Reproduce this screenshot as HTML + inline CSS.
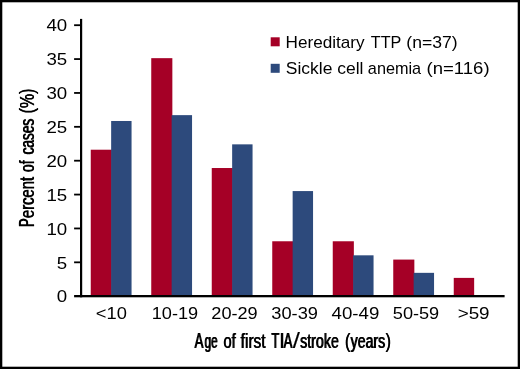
<!DOCTYPE html>
<html><head><meta charset="utf-8"><title>chart</title>
<style>html,body{margin:0;padding:0;background:#fff}svg{display:block;will-change:transform}text{font-family:"Liberation Sans",sans-serif;fill:#000}.t{stroke:#000;stroke-width:0.12px;vector-effect:non-scaling-stroke}</style></head>
<body>
<svg width="520" height="369" viewBox="0 0 520 369">
<rect x="0" y="0" width="520" height="369" fill="#fff"/>
<rect x="90.75" y="149.71" width="21.10" height="146.49" fill="#a50026"/>
<rect x="111.15" y="120.98" width="20.40" height="175.22" fill="#2d4a7c"/>
<rect x="151.25" y="58.16" width="21.10" height="238.04" fill="#a50026"/>
<rect x="171.65" y="115.14" width="20.40" height="181.06" fill="#2d4a7c"/>
<rect x="211.75" y="168.02" width="21.10" height="128.18" fill="#a50026"/>
<rect x="232.15" y="144.35" width="20.40" height="151.85" fill="#2d4a7c"/>
<rect x="272.25" y="241.27" width="21.10" height="54.93" fill="#a50026"/>
<rect x="292.65" y="191.07" width="20.40" height="105.13" fill="#2d4a7c"/>
<rect x="332.75" y="241.27" width="21.10" height="54.93" fill="#a50026"/>
<rect x="353.15" y="255.32" width="20.40" height="40.88" fill="#2d4a7c"/>
<rect x="393.25" y="259.58" width="21.10" height="36.62" fill="#a50026"/>
<rect x="413.65" y="272.84" width="20.40" height="23.36" fill="#2d4a7c"/>
<rect x="453.75" y="277.89" width="20.40" height="18.31" fill="#a50026"/>
<rect x="80" y="18.9" width="2.2" height="278.4" fill="#000"/>
<rect x="74.1" y="295" width="430.5" height="2.3" fill="#000"/>
<rect x="74.1" y="261.43" width="6.5" height="1.8" fill="#000"/>
<rect x="74.1" y="227.55" width="6.5" height="1.8" fill="#000"/>
<rect x="74.1" y="193.67" width="6.5" height="1.8" fill="#000"/>
<rect x="74.1" y="159.80" width="6.5" height="1.8" fill="#000"/>
<rect x="74.1" y="125.92" width="6.5" height="1.8" fill="#000"/>
<rect x="74.1" y="92.05" width="6.5" height="1.8" fill="#000"/>
<rect x="74.1" y="58.17" width="6.5" height="1.8" fill="#000"/>
<rect x="74.1" y="24.30" width="6.5" height="1.8" fill="#000"/>
<text transform="translate(67.2 302.45) scale(1.08 1)" font-size="17.3" text-anchor="end">0</text>
<text transform="translate(67.2 268.57) scale(1.08 1)" font-size="17.3" text-anchor="end">5</text>
<text transform="translate(67.2 234.70) scale(1.08 1)" font-size="17.3" text-anchor="end">10</text>
<text transform="translate(67.2 200.82) scale(1.08 1)" font-size="17.3" text-anchor="end">15</text>
<text transform="translate(67.2 166.95) scale(1.08 1)" font-size="17.3" text-anchor="end">20</text>
<text transform="translate(67.2 133.07) scale(1.08 1)" font-size="17.3" text-anchor="end">25</text>
<text transform="translate(67.2 99.20) scale(1.08 1)" font-size="17.3" text-anchor="end">30</text>
<text transform="translate(67.2 65.32) scale(1.08 1)" font-size="17.3" text-anchor="end">35</text>
<text transform="translate(67.2 31.45) scale(1.08 1)" font-size="17.3" text-anchor="end">40</text>
<text transform="translate(111.35 318.8) scale(1.06 1)" font-size="17.3" text-anchor="middle">&lt;10</text>
<text transform="translate(174.90 318.8) scale(1.05 1)" font-size="17.3" text-anchor="middle">10-19</text>
<text transform="translate(234.50 318.8) scale(1.05 1)" font-size="17.3" text-anchor="middle">20-29</text>
<text transform="translate(294.60 318.8) scale(1.055 1)" font-size="17.3" text-anchor="middle">30-39</text>
<text transform="translate(355.40 318.8) scale(1.08 1)" font-size="17.3" text-anchor="middle">40-49</text>
<text transform="translate(416.00 318.8) scale(1.05 1)" font-size="17.3" text-anchor="middle">50-59</text>
<text transform="translate(473.60 318.8) scale(1.09 1)" font-size="17.3" text-anchor="middle">&gt;59</text>
<rect x="270.7" y="37.3" width="9" height="9" fill="#a50026"/>
<rect x="270.7" y="63.8" width="9" height="9" fill="#2d4a7c"/>
<text transform="translate(285.52 47.7) scale(0.986 1)" font-size="17.4">Hereditary</text>
<text transform="translate(370.83 47.7) scale(0.9302 1)" font-size="17.4">TTP</text>
<text transform="translate(406.29 47.7) scale(1.0103 1)" font-size="17.4">(n=37)</text>
<text transform="translate(285.80 73.8) scale(1.004 1)" font-size="17.4">Sickle cell</text>
<text transform="translate(367.85 73.8) scale(0.9344 1)" font-size="17.4">anemia</text>
<text transform="translate(426.53 73.8) scale(1.0667 1)" font-size="17.4">(n=116)</text>
<text transform="translate(194.24 347.6) scale(0.6136 1)" font-size="21.5" class="t">A</text>
<text transform="translate(194.98 347.6) scale(0.6136 1)" font-size="21.5" class="t">A</text>
<text transform="translate(204.19 347.6) scale(0.5756 1)" font-size="20.4" class="t">ge</text>
<text transform="translate(205.06 347.6) scale(0.5756 1)" font-size="20.4" class="t">ge</text>
<text transform="translate(223.25 347.6) scale(0.7136 1)" font-size="20.4" class="t">of</text>
<text transform="translate(223.87 347.6) scale(0.7136 1)" font-size="20.4" class="t">of</text>
<text transform="translate(240.37 347.6) scale(0.7617 1)" font-size="20.4" class="t">first</text>
<text transform="translate(240.89 347.6) scale(0.7617 1)" font-size="20.4" class="t">first</text>
<text transform="translate(271.10 347.6) scale(0.6076 1)" font-size="21.5" class="t">T</text>
<text transform="translate(271.84 347.6) scale(0.6076 1)" font-size="21.5" class="t">T</text>
<text transform="translate(278.70 347.6) scale(1.1 1)" font-size="21.5" class="t">I</text>
<text transform="translate(283.34 347.6) scale(0.6096 1)" font-size="21.5" class="t">A</text>
<text transform="translate(284.08 347.6) scale(0.6096 1)" font-size="21.5" class="t">A</text>
<text transform="translate(292.80 347.6) scale(1.2 1)" font-size="21.5" class="t">/</text>
<text transform="translate(299.78 347.6) scale(0.6993 1)" font-size="20.4" class="t">stroke</text>
<text transform="translate(300.42 347.6) scale(0.6993 1)" font-size="20.4" class="t">stroke</text>
<text transform="translate(344.75 347.6) scale(0.8113 1)" font-size="20.4" class="t">(</text>
<text transform="translate(345.05 347.6) scale(0.8113 1)" font-size="20.4" class="t">(</text>
<text transform="translate(350.34 347.6) scale(0.6929 1)" font-size="20.4" class="t">years</text>
<text transform="translate(350.99 347.6) scale(0.6929 1)" font-size="20.4" class="t">years</text>
<text transform="translate(385.54 347.6) scale(0.7925 1)" font-size="20.4" class="t">)</text>
<text transform="translate(385.84 347.6) scale(0.7925 1)" font-size="20.4" class="t">)</text>
<text transform="translate(33.5 226.44) rotate(-90) scale(0.5784 1)" font-size="21.5" class="t">P</text>
<text transform="translate(33.5 227.24) rotate(-90) scale(0.5784 1)" font-size="21.5" class="t">P</text>
<text transform="translate(33.5 217.65) rotate(-90) scale(0.7232 1)" font-size="20.4" class="t">ercent</text>
<text transform="translate(33.5 218.25) rotate(-90) scale(0.7232 1)" font-size="20.4" class="t">ercent</text>
<text transform="translate(33.5 171.63) rotate(-90) scale(0.6785 1)" font-size="20.4" class="t">of</text>
<text transform="translate(33.5 172.31) rotate(-90) scale(0.6785 1)" font-size="20.4" class="t">of</text>
<text transform="translate(33.5 154.12) rotate(-90) scale(0.6714 1)" font-size="20.4" class="t">cases</text>
<text transform="translate(33.5 154.81) rotate(-90) scale(0.6714 1)" font-size="20.4" class="t">cases</text>
<text transform="translate(33.5 113.31) rotate(-90) scale(0.7736 1)" font-size="20.4" class="t">(</text>
<text transform="translate(33.5 113.61) rotate(-90) scale(0.7736 1)" font-size="20.4" class="t">(</text>
<text transform="translate(33.5 108.05) rotate(-90) scale(0.7844 1)" font-size="20.4" class="t">%</text>
<text transform="translate(33.5 108.35) rotate(-90) scale(0.7844 1)" font-size="20.4" class="t">%</text>
<text transform="translate(33.5 93.65) rotate(-90) scale(0.7736 1)" font-size="20.4" class="t">)</text>
<text transform="translate(33.5 93.95) rotate(-90) scale(0.7736 1)" font-size="20.4" class="t">)</text>
<rect x="0" y="0" width="520" height="369" fill="none" stroke="#000" stroke-width="4.6"/>
</svg>
</body></html>
